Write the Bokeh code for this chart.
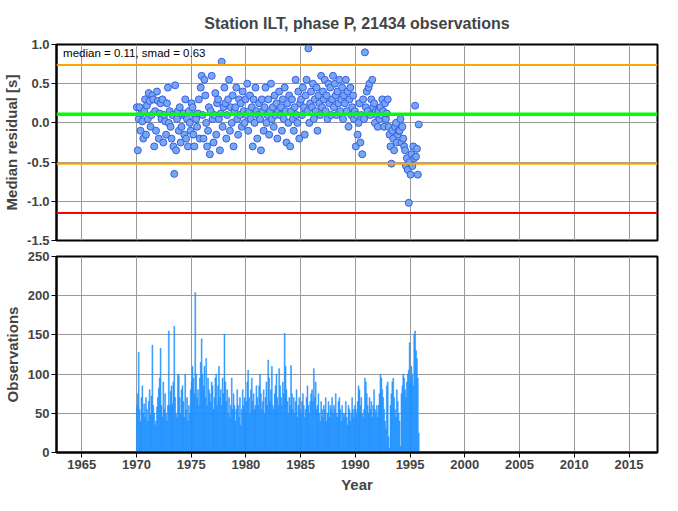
from bokeh.plotting import figure
from bokeh.layouts import column
from bokeh.models import Range1d, FixedTicker, PrintfTickFormatter, Span, Label
from bokeh.embed import file_html
from bokeh.resources import INLINE

# ---- data ----
years = list(range(1970, 1996))

# monthly median residuals [s], one row per year
median_residual = [
    [0.20, -0.35, 0.05, 0.20, -0.10, 0.12, 0.02, -0.20, 0.15, 0.30, -0.15, 0.22],   # 1970
    [0.05, 0.38, 0.28, -0.05, 0.10, 0.35, 0.30, -0.30, 0.15, -0.10, 0.40, 0.28],    # 1971
    [-0.20, 0.12, 0.25, 0.05, 0.30, -0.25, 0.10, 0.02, -0.15, 0.25, 0.45, 0.00],    # 1972
    [0.15, -0.05, -0.20, 0.10, -0.30, -0.65, 0.48, -0.35, 0.05, 0.15, -0.10, 0.20], # 1973
    [-0.25, -0.05, 0.10, 0.12, -0.15, 0.30, -0.20, 0.05, -0.30, 0.15, 0.00, -0.10], # 1974
    [0.25, 0.20, -0.15, -0.30, 0.10, 0.05, -0.05, 0.12, 0.30, -0.20, 0.45, 0.60],   # 1975
    [0.10, -0.20, 0.55, 0.35, 0.00, -0.30, -0.10, 0.20, -0.40, 0.15, 0.60, 0.05],   # 1976
    [-0.25, 0.10, 0.38, -0.15, 0.25, 0.30, 0.05, -0.35, 0.12, 0.78, -0.05, 0.20],   # 1977
    [0.45, 0.25, -0.20, 0.10, 0.30, 0.55, -0.10, 0.20, 0.00, 0.35, -0.30, 0.15],    # 1978
    [0.20, 0.45, 0.05, -0.15, 0.30, 0.10, 0.25, -0.05, 0.40, 0.15, 0.00, 0.30],     # 1979
    [0.10, 0.50, -0.10, 0.15, 0.35, 0.05, 0.20, -0.30, 0.30, 0.00, 0.45, 0.15],     # 1980
    [-0.20, 0.10, 0.25, 0.05, -0.35, 0.30, 0.15, -0.10, 0.20, 0.45, 0.00, 0.10],    # 1981
    [0.30, -0.15, 0.15, 0.50, 0.05, 0.20, -0.05, 0.35, 0.10, 0.25, -0.20, 0.15],    # 1982
    [0.40, 0.10, 0.20, -0.10, 0.30, 0.05, 0.45, 0.15, -0.25, 0.25, 0.00, 0.35],     # 1983
    [-0.30, 0.15, 0.30, 0.05, -0.10, 0.20, 0.55, 0.10, 0.00, 0.40, -0.20, 0.25],    # 1984
    [0.30, 0.10, 0.45, 0.20, -0.15, 0.35, 0.55, 0.15, 0.95, 0.00, 0.25, 0.40],      # 1985
    [0.20, 0.50, 0.05, 0.30, 0.15, 0.45, -0.10, 0.35, 0.25, 0.10, 0.60, 0.20],      # 1986
    [0.40, 0.30, 0.55, 0.15, 0.35, 0.05, 0.50, 0.25, 0.45, 0.10, 0.30, 0.60],       # 1987
    [0.20, 0.50, 0.35, 0.10, 0.40, 0.25, 0.55, 0.15, 0.30, 0.45, 0.05, 0.35],       # 1988
    [0.25, 0.55, 0.15, 0.40, -0.05, 0.30, 0.45, 0.10, 0.20, 0.35, 0.05, 0.15],      # 1989
    [-0.30, 0.10, -0.15, 0.00, 0.25, -0.25, 0.10, -0.40, 0.30, 0.05, 0.90, 0.20],   # 1990
    [0.40, 0.15, 0.45, 0.50, 0.10, 0.30, 0.55, 0.20, 0.25, 0.00, 0.15, 0.10],       # 1991
    [-0.05, 0.15, 0.05, 0.20, 0.10, 0.30, 0.15, -0.05, 0.25, 0.05, 0.12, 0.30],     # 1992
    [-0.05, -0.15, -0.30, -0.52, -0.10, -0.20, -0.35, -0.05, 0.00, -0.25, -0.15, -0.10],  # 1993
    [-0.10, 0.05, -0.25, -0.05, -0.20, -0.30, -0.35, -0.55, -0.45, -0.60, -1.02, -0.50],  # 1994
    [-0.66, -0.40, -0.55, -0.30, -0.45, 0.22, -0.43, -0.33, -0.66, -0.02],                # 1995
]

# monthly number of observations, one row per year
observations = [
    [60, 75, 128, 55, 40, 70, 85, 50, 62, 45, 70, 55],      # 1970
    [40, 65, 80, 48, 72, 137, 60, 50, 35, 40, 58, 70],      # 1971
    [82, 95, 133, 60, 45, 90, 55, 75, 50, 40, 60, 155],     # 1972
    [60, 78, 85, 62, 90, 161, 70, 50, 45, 100, 98, 70],     # 1973
    [50, 80, 85, 65, 45, 100, 55, 70, 40, 60, 50, 80],      # 1974
    [90, 110, 95, 75, 204, 100, 70, 80, 60, 95, 115, 145],  # 1975
    [100, 85, 110, 70, 120, 60, 95, 80, 75, 65, 90, 85],    # 1976
    [55, 70, 95, 100, 60, 85, 110, 70, 80, 60, 95, 75],     # 1977
    [151, 90, 65, 80, 50, 70, 45, 60, 95, 55, 75, 60],      # 1978
    [40, 55, 80, 60, 45, 70, 35, 55, 80, 60, 70, 50],       # 1979
    [65, 90, 105, 70, 50, 80, 95, 65, 75, 55, 60, 85],      # 1980
    [70, 60, 85, 100, 75, 55, 65, 80, 50, 70, 90, 60],      # 1981
    [118, 95, 65, 80, 110, 60, 55, 75, 85, 100, 70, 60],    # 1982
    [107, 85, 70, 60, 90, 75, 152, 110, 80, 65, 50, 70],    # 1983
    [60, 111, 75, 55, 70, 50, 65, 80, 45, 60, 70, 55],      # 1984
    [50, 65, 75, 60, 45, 55, 70, 85, 60, 50, 65, 75],       # 1985
    [80, 65, 107, 70, 90, 55, 60, 75, 50, 40, 65, 55],      # 1986
    [45, 60, 55, 70, 40, 50, 65, 45, 60, 55, 70, 50],       # 1987
    [60, 55, 75, 50, 45, 65, 70, 55, 40, 60, 50, 45],       # 1988
    [50, 65, 45, 35, 60, 55, 40, 50, 70, 55, 45, 60],       # 1989
    [55, 50, 65, 85, 80, 60, 70, 50, 45, 55, 95, 90],       # 1990
    [75, 60, 50, 70, 55, 65, 45, 60, 80, 55, 50, 60],       # 1991
    [45, 60, 75, 100, 95, 80, 70, 55, 40, 30, 85, 90],      # 1992
    [20, 5, 60, 75, 90, 95, 70, 55, 45, 80, 65, 50],        # 1993
    [40, 8, 75, 85, 100, 95, 80, 70, 90, 100, 105, 140],    # 1994
    [90, 110, 100, 85, 151, 155, 130, 120, 95, 25],         # 1995
]

median_value = 0.11
smad_value = 0.63
x_ticks = [1965, 1970, 1975, 1980, 1985, 1990, 1995, 2000, 2005, 2010, 2015]
resid_ticks = [-1.5, -1.0, -0.5, 0.0, 0.5, 1.0]
obs_ticks = [0, 50, 100, 150, 200, 250]

# ---- build month positions ----
rx, ry = [], []
for yr, row in zip(years, median_residual):
    for m, v in enumerate(row):
        rx.append(yr + (m + 0.5) / 12.0)
        ry.append(v)
ox, oy = [], []
for yr, row in zip(years, observations):
    for m, v in enumerate(row):
        ox.append(yr + (m + 0.5) / 12.0)
        oy.append(v)

FONT = "Liberation Sans"
W = 662
LB = 54
RB = 5

def style(p):
    p.outline_line_color = "black"
    p.outline_line_width = 2
    p.grid.grid_line_color = "#9a9a9a"
    p.grid.grid_line_width = 1
    for ax in p.axis:
        ax.axis_line_width = 2
        ax.major_tick_line_width = 1
        ax.major_tick_out = 5
        ax.major_tick_in = 0
        ax.minor_tick_line_color = None
        ax.major_label_text_font = FONT
        ax.major_label_text_font_style = "bold"
        ax.major_label_text_font_size = "13px"
        ax.major_label_standoff = 2
        ax.axis_label_text_font = FONT
        ax.axis_label_text_font_style = "bold"
        ax.axis_label_text_font_size = "15px"
        ax.axis_label_standoff = 4
    p.background_fill_color = "white"
    p.border_fill_color = "white"

xr = Range1d(1962.7, 2017.6)

p1 = figure(width=W, height=247, x_range=xr, y_range=Range1d(-1.5, 1.0),
            output_backend="svg", toolbar_location=None,
            min_border_left=LB, min_border_right=RB, min_border_top=37, min_border_bottom=7,
            title="Station ILT, phase P, 21434 observations")
p1.title.align = "center"
p1.title.text_font = FONT
p1.title.text_font_size = "16px"
p1.title.text_font_style = "bold"
p1.title.standoff = 25
style(p1)
p1.xaxis.visible = False
p1.xgrid.ticker = FixedTicker(ticks=x_ticks)
p1.yaxis.ticker = FixedTicker(ticks=resid_ticks)
p1.yaxis.formatter = PrintfTickFormatter(format="%.1f")
p1.yaxis.axis_label = "Median residual [s]"

p1.add_layout(Span(location=median_value + smad_value, dimension="width", line_color="#FFA500", line_width=2))
p1.add_layout(Span(location=median_value - smad_value, dimension="width", line_color="#FFA500", line_width=2))
p1.add_layout(Span(location=median_value - 2 * smad_value, dimension="width", line_color="#FF0000", line_width=2))
p1.add_layout(Span(location=median_value, dimension="width", line_color="#00FF00", line_width=3.5))

p1.scatter(rx, ry, size=7, fill_color="#74A9F2", line_color="#3A5BE6", line_width=1)
p1.add_layout(Label(x=1963.3, y=0.965, text="median = %.2f, smad = %.2f" % (median_value, smad_value),
                    text_font=FONT, text_font_size="11.5px", text_baseline="top", text_color="black"))

p2 = figure(width=W, height=248, x_range=xr, y_range=Range1d(0, 250),
            output_backend="svg", toolbar_location=None,
            min_border_left=LB, min_border_right=RB, min_border_top=9, min_border_bottom=2)
style(p2)
p2.xaxis.ticker = FixedTicker(ticks=x_ticks)
p2.xaxis.axis_label = "Year"
p2.yaxis.ticker = FixedTicker(ticks=obs_ticks)
p2.yaxis.axis_label = "Observations"
p2.vbar(x=ox, top=oy, bottom=0, width=1.0 / 12.0, fill_color="#1E90FF", line_color="#1E90FF",
        line_width=0.5, fill_alpha=0.9)

layout = column(p1, p2, spacing=0)
open("out.html", "w").write(file_html(layout, INLINE))
